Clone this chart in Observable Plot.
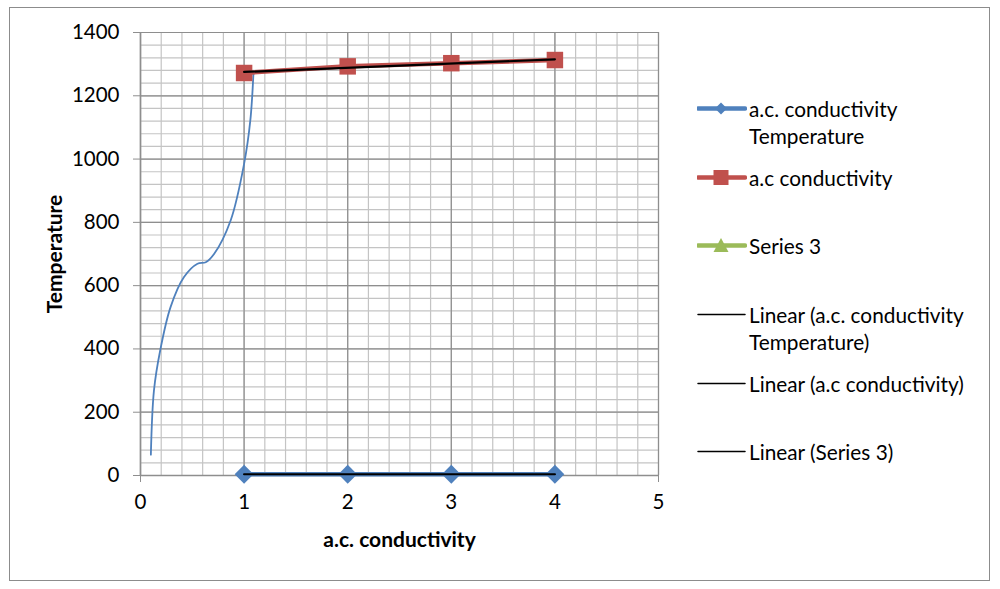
<!DOCTYPE html>
<html><head><meta charset="utf-8">
<script src="https://cdn.jsdelivr.net/npm/d3@7"></script>
<script src="https://cdn.jsdelivr.net/npm/@observablehq/plot@0.6"></script>
<style>
body{margin:0;background:#fff;}
#wrap{position:relative;width:1000px;height:589px;font-family:Lato, "Open Sans", sans-serif;color:#000;overflow:hidden;}
#border{position:absolute;left:9px;top:7px;width:981px;height:574px;border:1.5px solid #8c8c8c;box-sizing:border-box;}
#chart{position:absolute;left:0;top:0;}
.row{position:absolute;left:697px;font-size:20.8px;line-height:27px;display:flex;align-items:flex-start;white-space:nowrap;}
.row svg{flex:none;margin-right:2px;}
</style></head>
<body>
<div id="wrap"><div id="border"></div><div id="chart"></div></div>
<script>
// ---- data ----
const conductivity = [1, 2, 3, 4];
const tempSeries1 = [4, 4, 4, 4];            // a.c. conductivity Temperature
const tempSeries2 = [1272, 1293, 1303, 1313]; // a.c conductivity
const curveX = [0.10, 0.13, 0.19, 0.29, 0.42, 0.55, 0.63, 0.71, 0.87, 1.00, 1.06, 1.09];
const curveY = [66, 269, 395, 532, 627, 669, 674, 700, 806, 985, 1122, 1270];
const xTicks = [0, 1, 2, 3, 4, 5];
const yTicks = [0, 200, 400, 600, 800, 1000, 1200, 1400];
const xMinor = d3.range(0, 26).map(i => i / 5);
const yMinor = d3.range(0, 36).map(i => i * 40);
const legendLabels = [
  "a.c. conductivity<br>Temperature",
  "a.c conductivity",
  "Series 3",
  "Linear (a.c. conductivity<br>Temperature)",
  "Linear (a.c conductivity)",
  "Linear (Series 3)"
];
const colors = {blue: "#4F81BD", red: "#C0504D", green: "#9BBB59"};

const s1 = conductivity.map((x, i) => ({x, y: tempSeries1[i]}));
const s2 = conductivity.map((x, i) => ({x, y: tempSeries2[i]}));
const curve = curveX.map((x, i) => ({x, y: curveY[i]}));

const minorC = "#c4c4c4", majorC = "#8e8e8e";
const fmt = d => String(d);

const chart = Plot.plot({
  width: 1000, height: 589,
  marginLeft: 140, marginRight: 342, marginTop: 32, marginBottom: 114,
  style: {fontFamily: "Lato, 'Open Sans', sans-serif", fontSize: "20.5px", background: "transparent", overflow: "visible"},
  x: {domain: [0, 5], label: null},
  y: {domain: [0, 1400], label: null},
  marks: [
    Plot.gridX(xMinor, {stroke: minorC, strokeOpacity: 1, strokeWidth: 1.2}),
    Plot.gridY(yMinor, {stroke: minorC, strokeOpacity: 1, strokeWidth: 1.2}),
    Plot.gridX(xTicks, {stroke: majorC, strokeOpacity: 1, strokeWidth: 1.2}),
    Plot.gridY(yTicks, {stroke: majorC, strokeOpacity: 1, strokeWidth: 1.2}),
    Plot.axisX(xTicks, {tickSize: 7, tickPadding: 12, stroke: majorC, fill: "#000", label: null, tickFormat: fmt}),
    Plot.axisY(yTicks, {tickSize: 7, tickPadding: 14, stroke: majorC, fill: "#000", label: null, tickFormat: fmt}),
    Plot.ruleX([0], {stroke: majorC, strokeWidth: 1.5}),
    Plot.ruleY([0], {stroke: majorC, strokeWidth: 1.5}),
    Plot.line(curve, {x: "x", y: "y", stroke: colors.blue, strokeWidth: 1.8, curve: "catmull-rom"}),
    Plot.line(s1, {x: "x", y: "y", stroke: colors.blue, strokeWidth: 4.5}),
    Plot.line(s2, {x: "x", y: "y", stroke: colors.red, strokeWidth: 4.5}),
    Plot.dot(s1, {x: "x", y: "y", symbol: "diamond2", r: 8.5, fill: colors.blue, stroke: "none"}),
    Plot.dot(s2, {x: "x", y: "y", symbol: "square", r: 9.3, fill: colors.red, stroke: "none"}),
    Plot.linearRegressionY(s1, {x: "x", y: "y", stroke: "#000", strokeWidth: 2.2, ci: 0}),
    Plot.linearRegressionY(s2, {x: "x", y: "y", stroke: "#000", strokeWidth: 2.2, ci: 0}),
    Plot.text(["Temperature"], {frameAnchor: "left", dx: -85, rotate: -90, textAnchor: "middle", fontWeight: "bold", fontSize: 21}),
    Plot.text(["a.c. conductivity"], {frameAnchor: "bottom", dy: 71, fontWeight: "bold", fontSize: 21})
  ]
});
document.getElementById("chart").appendChild(chart);

// ---- legend (HTML) ----
const wrap = document.getElementById("wrap");
const legendTops = [95, 164, 232, 301, 370, 438];
const markers = [
  {stroke: colors.blue, w: 4.5, shape: "diamond", fill: colors.blue},
  {stroke: colors.red, w: 4.5, shape: "square", fill: colors.red},
  {stroke: colors.green, w: 4.5, shape: "triangle", fill: colors.green},
  {stroke: "#000", w: 1.5},
  {stroke: "#000", w: 1.5},
  {stroke: "#000", w: 1.5}
];
legendLabels.forEach((lab, i) => {
  const m = markers[i];
  const row = document.createElement("div");
  row.className = "row";
  row.style.top = legendTops[i] + "px";
  let shape = "";
  if (m.shape === "diamond") shape = `<path d="M24,7.5 L30,13.5 L24,19.5 L18,13.5Z" fill="${m.fill}"/>`;
  if (m.shape === "square") shape = `<rect x="16.5" y="6" width="15" height="15" fill="${m.fill}"/>`;
  if (m.shape === "triangle") shape = `<path d="M24,6 L31.5,20 L16.5,20Z" fill="${m.fill}"/>`;
  row.innerHTML = `<svg width="50" height="27"><line x1="1" x2="48" y1="13.5" y2="13.5" stroke="${m.stroke}" stroke-width="${m.w}" stroke-linecap="round"/>${shape}</svg><span>${lab}</span>`;
  wrap.appendChild(row);
});
</script>
</body></html>
